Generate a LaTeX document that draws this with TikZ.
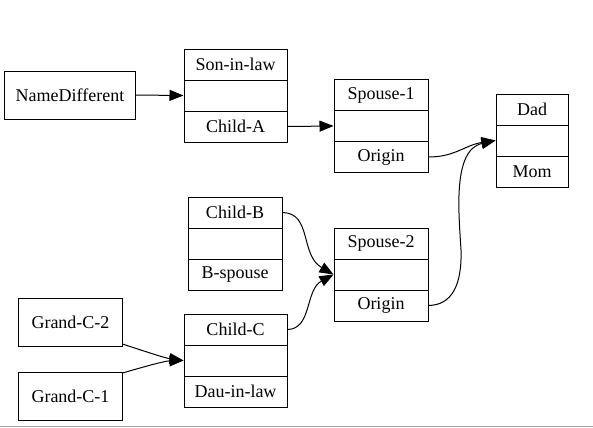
\documentclass[tikz,border=0pt]{standalone}
\usepackage{fontspec}
\setmainfont{Liberation Serif}
\newfontfamily\recfont{Liberation Serif}
\usetikzlibrary{arrows.meta}
\begin{document}
\begin{tikzpicture}[x=1bp,y=-1bp,
  box/.style={draw, line width=1bp, inner sep=0pt, font=\recfont\fontsize{18bp}{20bp}\selectfont},
  wA/.style={box, minimum width=103bp, minimum height=31bp},
  wB/.style={box, minimum width=94bp, minimum height=31bp},
  wD/.style={box, minimum width=72bp, minimum height=31bp},
  plain/.style={box, minimum width=#1, minimum height=48bp},
  edge/.style={line width=1bp, -{Triangle[length=14bp,width=11bp]}}]
\useasboundingbox (0,0) rectangle (593,427);
% plain boxes
\node[plain=130bp] (nd) at (70,95) {NameDifferent};
\node[plain=103bp] (gc2) at (70.5,322.5) {Grand-C-2};
\node[plain=103bp] (gc1) at (70.5,396.5) {Grand-C-1};
% Son-in-law record
\node[wA] (sil1) at (235.5,64.5) {Son-in-law};
\node[wA] (sil2) at (235.5,95.5) {};
\node[wA] (sil3) at (235.5,126.5) {Child-A};
% Spouse-1 record
\node[wB] (sa1) at (381,95) {Spouse-1};
\node[wB] (sa2) at (381,126) {};
\node[wB] (sa3) at (381,157) {Origin};
% Dad record
\node[wD] (dad1) at (532,109.5) {Dad};
\node[wD] (dad2) at (532,140.5) {};
\node[wD] (dad3) at (532,171.5) {Mom};
% Child-B record
\node[wB] (cb1) at (235,212.5) {Child-B};
\node[wB] (cb2) at (235,243.5) {};
\node[wB] (cb3) at (235,274.5) {B-spouse};
% Spouse-2 record
\node[wB] (sb1) at (381,243.5) {Spouse-2};
\node[wB] (sb2) at (381,274.5) {};
\node[wB] (sb3) at (381,305.5) {Origin};
% Child-C record
\node[wA] (cc1) at (235.5,329.5) {Child-C};
\node[wA] (cc2) at (235.5,360.5) {};
\node[wA] (cc3) at (235.5,391.5) {Dau-in-law};
% edges
\draw[edge] (nd.east) -- (sil2.west);
\draw[edge] (sil3.east) -- (sa2.west);
\draw[edge] (sa3.east) .. controls (455,157) and (465,145) .. (dad2.west);
\draw[edge] (sb3.east) .. controls (452,305) and (462,285) .. (461,250)
   .. controls (459,215) and (452,150) .. (dad2.west);
\draw[edge] (cb1.east) .. controls (312,213) and (300,255) .. (sb2.west);
\draw[edge] (cc1.east) .. controls (312,329) and (305,290) .. (sb2.west);
\draw[edge] (gc2.south east) ++(0,-3) .. controls (150,353) and (165,358) .. (cc2.west);
\draw[edge] (gc1.north east) ++(0,1) .. controls (150,365) and (165,361) .. (cc2.west);
% bottom rule
\draw[line width=1bp, black!35] (0,426) -- (593,426);
\end{tikzpicture}
\end{document}
